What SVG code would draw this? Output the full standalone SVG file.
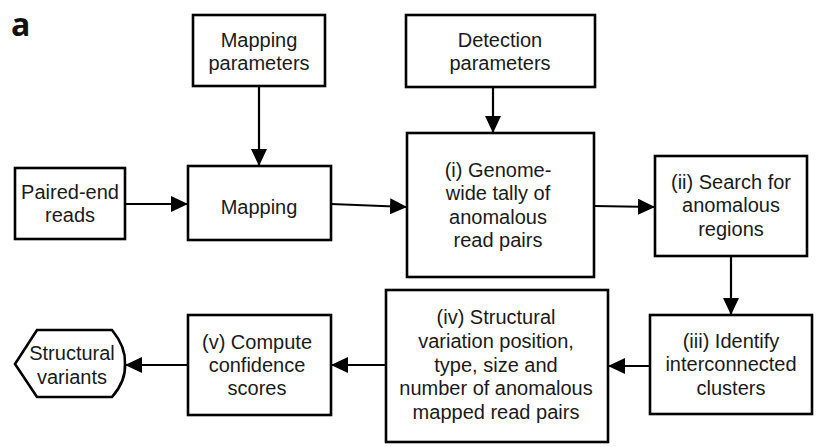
<svg xmlns="http://www.w3.org/2000/svg" width="821" height="447" viewBox="0 0 821 447">
<style>
.box{fill:#fff;stroke:#000;stroke-width:2.6}
.t{font-family:"Liberation Sans",Arial,sans-serif;font-size:20px;fill:#1a1a1a;text-anchor:middle}
.c{fill:none;stroke:#000;stroke-width:2.2}
</style>
<defs>
<marker id="ah" markerUnits="userSpaceOnUse" markerWidth="18" markerHeight="16" refX="17" refY="8" orient="auto">
<path d="M0,0 L17,8 L0,16 Z" fill="#000"/>
</marker>
</defs>
<rect width="821" height="447" fill="#fff"/>
<text x="11" y="36" style="font-family:'Open Sans','Liberation Sans',sans-serif;font-weight:bold;font-size:32px;fill:#111">a</text>
<g id="connectors">
<line class="c" x1="259" y1="86" x2="259" y2="166" marker-end="url(#ah)"/>
<line class="c" x1="125" y1="204" x2="188" y2="204" marker-end="url(#ah)"/>
<line class="c" x1="331" y1="204" x2="407" y2="207" marker-end="url(#ah)"/>
<line class="c" x1="493" y1="87" x2="493" y2="133" marker-end="url(#ah)"/>
<line class="c" x1="594" y1="206" x2="655" y2="207" marker-end="url(#ah)"/>
<line class="c" x1="731" y1="256" x2="731" y2="315" marker-end="url(#ah)"/>
<line class="c" x1="650" y1="366" x2="608" y2="366" marker-end="url(#ah)"/>
<line class="c" x1="386" y1="365" x2="331" y2="365" marker-end="url(#ah)"/>
<line class="c" x1="188" y1="365" x2="125" y2="365" marker-end="url(#ah)"/>
</g>
<g id="mapping-parameters">
<rect class="box" x="193" y="15" width="132" height="71"/>
<text class="t" x="259" y="47">Mapping</text>
<text class="t" x="259" y="70">parameters</text>
</g>
<g id="detection-parameters">
<rect class="box" x="406" y="15" width="189" height="72"/>
<text class="t" x="500" y="47">Detection</text>
<text class="t" x="500" y="70">parameters</text>
</g>
<g id="paired-end-reads">
<rect class="box" x="15" y="168" width="110" height="71"/>
<text class="t" x="70" y="199">Paired-end</text>
<text class="t" x="70" y="222">reads</text>
</g>
<g id="mapping">
<rect class="box" x="188" y="166" width="143" height="74"/>
<text class="t" x="259" y="214">Mapping</text>
</g>
<g id="step-i">
<rect class="box" x="407" y="133" width="187" height="144"/>
<text class="t" x="498" y="177">(i) Genome-</text>
<text class="t" x="498" y="200">wide tally of</text>
<text class="t" x="498" y="224">anomalous</text>
<text class="t" x="498" y="247">read pairs</text>
</g>
<g id="step-ii">
<rect class="box" x="655" y="156" width="152" height="100"/>
<text class="t" x="731" y="189">(ii) Search for</text>
<text class="t" x="731" y="212">anomalous</text>
<text class="t" x="731" y="236">regions</text>
</g>
<g id="step-iii">
<rect class="box" x="650" y="315" width="162" height="99"/>
<text class="t" x="731" y="348">(iii) Identify</text>
<text class="t" x="731" y="371">interconnected</text>
<text class="t" x="731" y="395">clusters</text>
</g>
<g id="step-iv">
<rect class="box" x="386" y="290" width="222" height="152"/>
<text class="t" x="496" y="324">(iv) Structural</text>
<text class="t" x="496" y="348">variation position,</text>
<text class="t" x="496" y="372">type, size and</text>
<text class="t" x="496" y="395">number of anomalous</text>
<text class="t" x="496" y="419">mapped read pairs</text>
</g>
<g id="step-v">
<rect class="box" x="188" y="315" width="143" height="100"/>
<text class="t" x="257" y="349">(v) Compute</text>
<text class="t" x="257" y="372">confidence</text>
<text class="t" x="257" y="395">scores</text>
</g>
<g id="structural-variants">
<path class="box" d="M15,364 L37,330 L112,330 Q126,347 125,364 Q126,381 112,397 L37,397 Z"/>
<text class="t" x="72" y="360">Structural</text>
<text class="t" x="72" y="384">variants</text>
</g>
</svg>
